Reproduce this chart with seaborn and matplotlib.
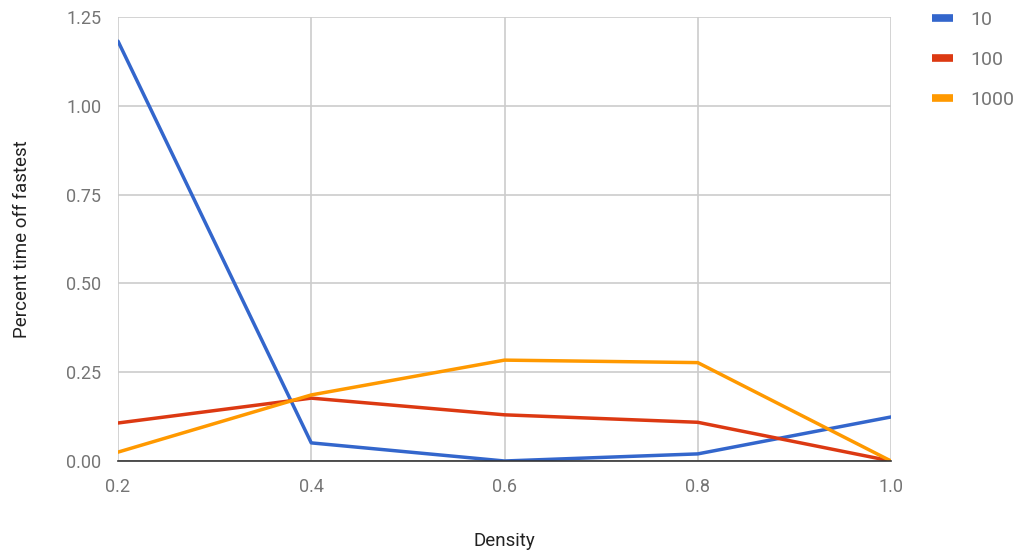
import matplotlib
matplotlib.use("Agg")
import matplotlib.pyplot as plt
from matplotlib.lines import Line2D
import seaborn as sns
import pandas as pd

density = [0.2, 0.4, 0.6, 0.8, 1.0]
s10 = [1.182, 0.051, 0.0, 0.020, 0.124]
s100 = [0.107, 0.177, 0.130, 0.109, 0.0]
s1000 = [0.025, 0.186, 0.284, 0.277, 0.0]
series_names = ["10", "100", "1000"]
colors = ["#3366CC", "#DC3912", "#FF9900"]

df = pd.concat([
    pd.DataFrame({"Density": density, "value": v, "series": n})
    for n, v in zip(series_names, [s10, s100, s1000])
])

sns.set_theme(style="white")
plt.rcParams["font.family"] = ["Roboto", "DejaVu Sans"]

fig = plt.figure(figsize=(10.18, 5.51), dpi=100)
ax = fig.add_axes([118/1018, 1 - 461/551, (891-118)/1018, (461-17)/551])

sns.lineplot(data=df, x="Density", y="value", hue="series", palette=colors,
             linewidth=2.5, ax=ax, legend=False, zorder=3)

ax.set_xlim(0.2, 1.0)
ax.set_ylim(0, 1.25)
ax.set_xticks([0.2, 0.4, 0.6, 0.8, 1.0])
ax.set_xticklabels(["0.2", "0.4", "0.6", "0.8", "1.0"])
ax.set_yticks([0, 0.25, 0.5, 0.75, 1.0, 1.25])
ax.set_yticklabels(["0.00", "0.25", "0.50", "0.75", "1.00", "1.25"])
ax.grid(True, color="#CCCCCC", linewidth=1.2)
ax.set_axisbelow(True)
for s in ["top", "right", "left"]:
    ax.spines[s].set_visible(False)
ax.spines["bottom"].set_color("#333333")
ax.spines["bottom"].set_linewidth(1.2)
ax.spines["bottom"].set_zorder(4)
ax.tick_params(axis="both", length=0, labelsize=13, colors="#757575")
ax.tick_params(axis="x", pad=12)
ax.tick_params(axis="y", pad=12)
ax.set_xlabel("Density", fontsize=13.5, color="#222222", labelpad=26)
ax.set_ylabel("Percent time off fastest", fontsize=13.5, color="#222222", labelpad=25)

handles = [Line2D([0], [0], color=c, lw=5.5, solid_capstyle="butt") for c in colors]
leg = ax.legend(handles, series_names, loc="upper left", bbox_to_anchor=(1.053, 1.013),
                frameon=False, fontsize=14, handlelength=1.1, handletextpad=0.85,
                labelspacing=1.12, borderpad=0, borderaxespad=0)
for t in leg.get_texts():
    t.set_color("#757575")

fig.savefig("out.png", dpi=100)
